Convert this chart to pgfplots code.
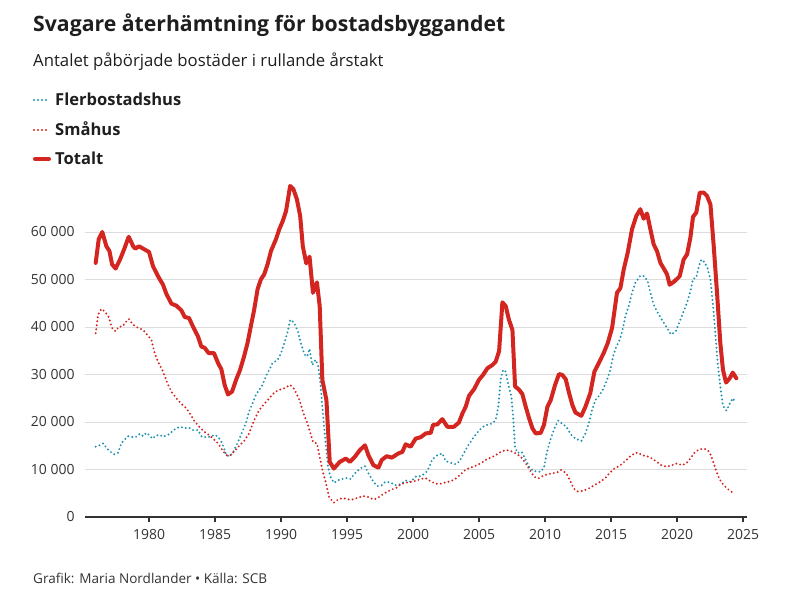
\documentclass[border=0pt]{standalone}
\usepackage{fontspec}
\setmainfont{Open Sans}
\usepackage{pgfplots}
\pgfplotsset{compat=1.18}
\definecolor{totred}{RGB}{212,38,33}
\definecolor{flerteal}{RGB}{30,146,176}
\definecolor{txt}{RGB}{30,30,30}
\definecolor{tickc}{RGB}{51,51,51}
\definecolor{gridc}{RGB}{221,221,221}

\pgfplotstableread{
year fler
1975.96 14.8
1976.26 15.1
1976.52 15.5
1976.77 14.6
1977.00 13.9
1977.35 13.2
1977.65 13.5
1977.90 15.5
1978.16 16.3
1978.41 17.0
1978.80 16.8
1979.04 16.9
1979.30 17.5
1979.55 17.0
1979.80 17.7
1980.00 17.3
1980.25 16.5
1980.50 17.1
1980.81 17.3
1981.06 16.9
1981.44 17.3
1981.74 18.0
1982.07 18.7
1982.37 19.0
1982.70 18.7
1983.03 18.8
1983.33 18.3
1983.71 18.3
1984.00 16.9
1984.34 16.8
1984.67 16.9
1984.97 17.3
1985.23 16.9
1985.53 15.6
1985.86 13.0
1986.11 12.8
1986.36 13.5
1986.74 15.8
1987.07 18.0
1987.33 19.7
1987.58 22.2
1987.84 23.9
1988.09 25.7
1988.35 26.8
1988.60 27.8
1988.85 29.6
1989.11 31.0
1989.36 32.4
1989.75 33.1
1990.00 34.5
1990.25 36.6
1990.51 39.1
1990.69 41.5
1990.97 41.0
1991.27 39.1
1991.53 36.3
1991.78 34.2
1991.98 33.8
1992.16 35.4
1992.37 32.0
1992.62 33.1
1992.80 32.0
1992.98 28.2
1993.13 23.2
1993.31 17.6
1993.56 10.6
1993.74 8.5
1994.00 7.2
1994.45 7.9
1994.96 8.2
1995.27 8.0
1995.60 9.2
1995.98 10.2
1996.36 10.7
1996.62 9.2
1997.00 7.4
1997.30 6.5
1997.63 6.7
1997.89 7.4
1998.27 7.3
1998.65 6.7
1999.07 6.9
1999.44 7.7
1999.82 7.4
2000.20 8.5
2000.58 8.6
2000.96 9.3
2001.21 10.4
2001.46 12.1
2001.84 13.0
2002.22 13.4
2002.47 11.8
2002.85 11.4
2003.23 11.1
2003.54 11.8
2003.86 13.5
2004.19 15.1
2004.62 16.9
2005.00 18.2
2005.30 19.0
2005.63 19.4
2006.01 19.7
2006.26 20.4
2006.46 23.2
2006.64 28.9
2006.82 31.0
2007.02 30.6
2007.22 27.8
2007.45 25.4
2007.60 20.4
2007.73 14.8
2007.90 13.5
2008.23 13.7
2008.54 12.0
2008.79 10.6
2009.09 9.7
2009.42 9.6
2009.67 9.5
2009.92 10.4
2010.18 14.1
2010.43 16.5
2010.76 19.0
2011.01 20.3
2011.31 19.6
2011.62 19.0
2011.92 17.5
2012.30 16.5
2012.75 16.0
2013.06 17.6
2013.31 19.7
2013.56 22.5
2013.81 24.6
2014.14 25.7
2014.44 27.1
2014.70 28.9
2014.95 31.0
2015.15 33.8
2015.40 35.9
2015.66 37.3
2015.91 39.8
2016.09 42.3
2016.34 44.4
2016.59 47.2
2016.84 49.3
2017.22 50.8
2017.53 50.7
2017.78 49.6
2017.98 47.2
2018.23 44.7
2018.54 43.0
2018.86 41.5
2019.24 39.8
2019.55 38.4
2019.90 39.1
2020.25 41.5
2020.50 43.3
2020.76 45.1
2021.01 47.5
2021.21 50.1
2021.46 50.4
2021.64 52.7
2021.84 54.2
2022.07 53.7
2022.32 52.3
2022.53 50.0
2022.73 44.4
2022.90 38.7
2023.08 32.4
2023.28 27.5
2023.48 23.4
2023.74 22.4
2023.99 23.8
2024.22 25.0
2024.42 24.1
}\fler

\pgfplotstableread{
year smahus
1975.96 38.7
1976.14 42.6
1976.39 43.8
1976.64 43.3
1976.94 42.1
1977.20 39.8
1977.47 39.1
1977.73 40.1
1977.98 40.1
1978.23 41.0
1978.46 41.7
1978.79 40.5
1979.17 39.8
1979.55 39.4
1979.92 38.2
1980.18 37.3
1980.43 34.5
1980.68 32.7
1981.06 30.6
1981.39 28.2
1981.69 26.4
1982.07 25.0
1982.45 23.8
1982.83 22.9
1983.16 21.5
1983.46 20.1
1983.84 18.9
1984.17 18.0
1984.52 17.3
1984.85 16.5
1985.23 15.5
1985.53 14.2
1985.86 13.0
1986.11 12.9
1986.49 13.9
1986.87 15.1
1987.20 16.0
1987.58 17.6
1987.97 20.4
1988.35 22.5
1988.73 23.8
1989.11 25.0
1989.49 26.2
1989.87 26.8
1990.25 27.1
1990.69 27.8
1991.02 26.9
1991.40 24.6
1991.70 21.8
1992.04 19.4
1992.42 15.8
1992.72 15.5
1992.93 12.7
1993.13 9.9
1993.38 7.4
1993.64 4.2
1994.00 3.0
1994.33 3.7
1994.71 4.0
1995.09 3.7
1995.47 3.7
1995.85 4.1
1996.23 4.4
1996.62 4.2
1997.00 3.7
1997.25 3.9
1997.63 4.6
1998.02 5.3
1998.40 5.8
1998.79 6.2
1999.07 6.9
1999.44 7.2
1999.82 7.4
2000.20 7.6
2000.58 8.0
2000.96 8.2
2001.34 7.5
2001.72 7.0
2002.10 7.0
2002.47 7.3
2002.85 7.5
2003.23 8.1
2003.61 9.0
2003.99 10.0
2004.37 10.4
2004.75 10.8
2005.13 11.3
2005.50 12.0
2005.88 12.5
2006.26 13.0
2006.64 13.7
2007.02 14.1
2007.40 13.9
2007.78 13.4
2008.16 12.7
2008.54 11.3
2008.84 9.9
2009.17 8.5
2009.49 8.1
2009.80 8.6
2010.18 9.0
2010.56 9.2
2010.93 9.4
2011.19 9.9
2011.44 9.6
2011.69 8.8
2011.94 7.4
2012.17 6.0
2012.47 5.4
2012.88 5.5
2013.31 6.0
2013.74 6.7
2014.19 7.4
2014.57 8.2
2014.90 9.3
2015.25 10.2
2015.66 10.8
2016.09 11.8
2016.46 12.8
2016.84 13.5
2017.10 13.5
2017.35 13.0
2017.73 12.8
2018.11 12.3
2018.48 11.6
2018.86 10.8
2019.24 10.6
2019.62 10.9
2020.00 11.3
2020.38 10.9
2020.71 11.3
2021.01 12.3
2021.31 13.5
2021.64 14.2
2022.02 14.4
2022.32 14.1
2022.53 13.2
2022.78 11.3
2023.03 9.2
2023.23 7.9
2023.48 6.9
2023.79 6.0
2024.22 5.1
}\smahus

\pgfplotstableread{
year totalt
1975.96 53.5
1976.19 58.5
1976.46 60.0
1976.77 57.0
1977.00 56.0
1977.20 53.2
1977.47 52.3
1977.80 54.2
1978.16 56.7
1978.46 59.0
1978.80 57.0
1978.96 56.5
1979.24 57.0
1979.55 56.5
1980.00 55.8
1980.30 52.8
1980.68 50.7
1981.06 48.9
1981.31 47.0
1981.70 44.9
1982.07 44.5
1982.45 43.5
1982.70 42.1
1983.03 41.9
1983.33 40.1
1983.71 38.0
1983.96 35.9
1984.22 35.6
1984.52 34.5
1984.92 34.5
1985.23 32.4
1985.48 31.1
1985.73 27.8
1985.98 25.8
1986.29 26.4
1986.60 28.9
1986.90 31.0
1987.20 33.8
1987.46 36.6
1987.71 40.1
1987.97 43.7
1988.22 47.9
1988.47 50.0
1988.73 51.1
1988.98 53.2
1989.24 56.0
1989.62 58.5
1989.87 60.6
1990.13 62.3
1990.38 64.4
1990.69 69.7
1990.94 69.0
1991.20 66.9
1991.45 63.4
1991.65 57.0
1991.91 53.4
1992.16 54.8
1992.42 47.2
1992.72 49.4
1992.93 44.4
1993.13 28.9
1993.44 24.6
1993.69 11.6
1994.00 10.2
1994.45 11.6
1994.91 12.3
1995.22 11.6
1995.60 12.7
1995.98 14.1
1996.36 15.1
1996.62 13.0
1997.00 10.9
1997.38 10.4
1997.63 12.0
1998.00 12.8
1998.40 12.5
1998.90 13.4
1999.19 13.7
1999.44 15.3
1999.82 14.8
2000.20 16.5
2000.58 16.8
2000.96 17.6
2001.34 17.7
2001.52 19.4
2001.84 19.5
2002.22 20.6
2002.60 19.0
2003.10 19.0
2003.48 19.9
2003.74 21.8
2003.99 23.2
2004.24 25.5
2004.62 26.9
2005.00 28.9
2005.30 29.9
2005.63 31.3
2006.01 32.0
2006.26 32.7
2006.52 34.9
2006.77 45.2
2007.02 44.4
2007.27 41.5
2007.53 39.4
2007.73 27.5
2008.03 26.8
2008.28 25.9
2008.54 23.2
2008.79 20.8
2009.04 18.7
2009.29 17.6
2009.67 17.7
2009.92 19.4
2010.18 23.2
2010.43 24.6
2010.76 27.8
2011.06 30.1
2011.31 29.9
2011.57 29.0
2011.82 26.1
2012.07 23.6
2012.30 22.0
2012.75 21.3
2013.06 23.2
2013.43 26.1
2013.74 30.6
2014.07 32.4
2014.44 34.5
2014.75 36.6
2015.08 39.8
2015.45 47.2
2015.71 48.2
2015.96 52.1
2016.26 55.6
2016.59 60.6
2016.92 63.4
2017.22 64.8
2017.47 62.8
2017.73 63.9
2017.98 60.6
2018.23 57.4
2018.48 56.0
2018.74 53.5
2019.04 52.1
2019.24 51.1
2019.44 48.9
2019.80 49.6
2020.20 50.7
2020.50 54.2
2020.76 55.3
2021.01 58.8
2021.21 63.2
2021.46 64.1
2021.72 68.3
2022.02 68.3
2022.27 67.6
2022.53 65.8
2022.78 57.0
2023.03 47.2
2023.28 36.6
2023.48 31.0
2023.71 28.3
2023.99 29.2
2024.22 30.4
2024.49 29.2
}\totalt

\begin{document}
\begin{tikzpicture}
\useasboundingbox (0bp,0bp) rectangle (794bp,604bp);

\begin{scope}[x=1bp,y=1bp]
% titles
\node[anchor=base west, inner sep=0, text=txt, font=\fontsize{21.3}{24}\selectfont\bfseries]
  at (33,572) {Svagare återhämtning för bostadsbyggandet};
\node[anchor=base west, inner sep=0, text=txt, font=\fontsize{16.8}{19}\selectfont]
  at (33,537) {Antalet påbörjade bostäder i rullande årstakt};

% legend
\draw[flerteal, line width=2.2bp, line cap=round, dash pattern=on 0bp off 4bp] (34,504) -- (50,504);
\draw[totred, line width=2.2bp, line cap=round, dash pattern=on 0bp off 4bp] (34,474) -- (50,474);
\draw[totred, line width=4bp, line cap=round] (35,445) -- (49,445);
\node[anchor=base west, inner sep=0, text=txt, font=\fontsize{16.6}{19}\selectfont\bfseries] at (55,498) {Flerbostadshus};
\node[anchor=base west, inner sep=0, text=txt, font=\fontsize{16.6}{19}\selectfont\bfseries] at (55,468) {Småhus};
\node[anchor=base west, inner sep=0, text=txt, font=\fontsize{16.6}{19}\selectfont\bfseries] at (55,439) {Totalt};

% footer
\node[anchor=base west, inner sep=0, text=tickc, font=\fontsize{13.6}{16}\selectfont]
  at (33,21) {Grafik: Maria Nordlander • Källa: SCB};
\end{scope}

\begin{axis}[
  at={(85bp,87bp)}, anchor=south west,
  scale only axis, width=662bp, height=337bp,
  xmin=1975.15, xmax=2025.3,
  ymin=0, ymax=70.95,
  axis x line*=bottom,
  axis y line*=left,
  y axis line style={draw=none},
  x axis line style={line width=2.6bp, color=tickc},
  xtick={1980,1985,...,2025},
  ytick={10,20,30,40,50,60},
  extra y ticks={0},
  extra y tick style={grid=none},
  yticklabels={{10 000},{20 000},{30 000},{40 000},{50 000},{60 000}},
  extra y tick labels={0},
  ymajorgrids,
  grid style={gridc, line width=1bp},
  tick align=outside,
  xtick style={line width=1.3bp, color=tickc},
  ytick style={draw=none},
  major tick length=5bp,
  xticklabel style={font=\fontsize{14}{16}\selectfont, text=tickc, yshift=-4bp},
  yticklabel style={font=\fontsize{14}{16}\selectfont, text=tickc, xshift=-2bp},
  /pgf/number format/1000 sep={},
  /pgf/number format/assume math mode=true,
  clip=false,
]
\addplot[flerteal, line width=2.2bp, line cap=round, dash pattern=on 0bp off 4bp] table[x=year,y=fler] {\fler};
\addplot[totred, line width=2.2bp, line cap=round, dash pattern=on 0bp off 4bp] table[x=year,y=smahus] {\smahus};
\addplot[totred, line width=4bp, line join=round, line cap=round] table[x=year,y=totalt] {\totalt};
\end{axis}
\end{tikzpicture}
\end{document}
